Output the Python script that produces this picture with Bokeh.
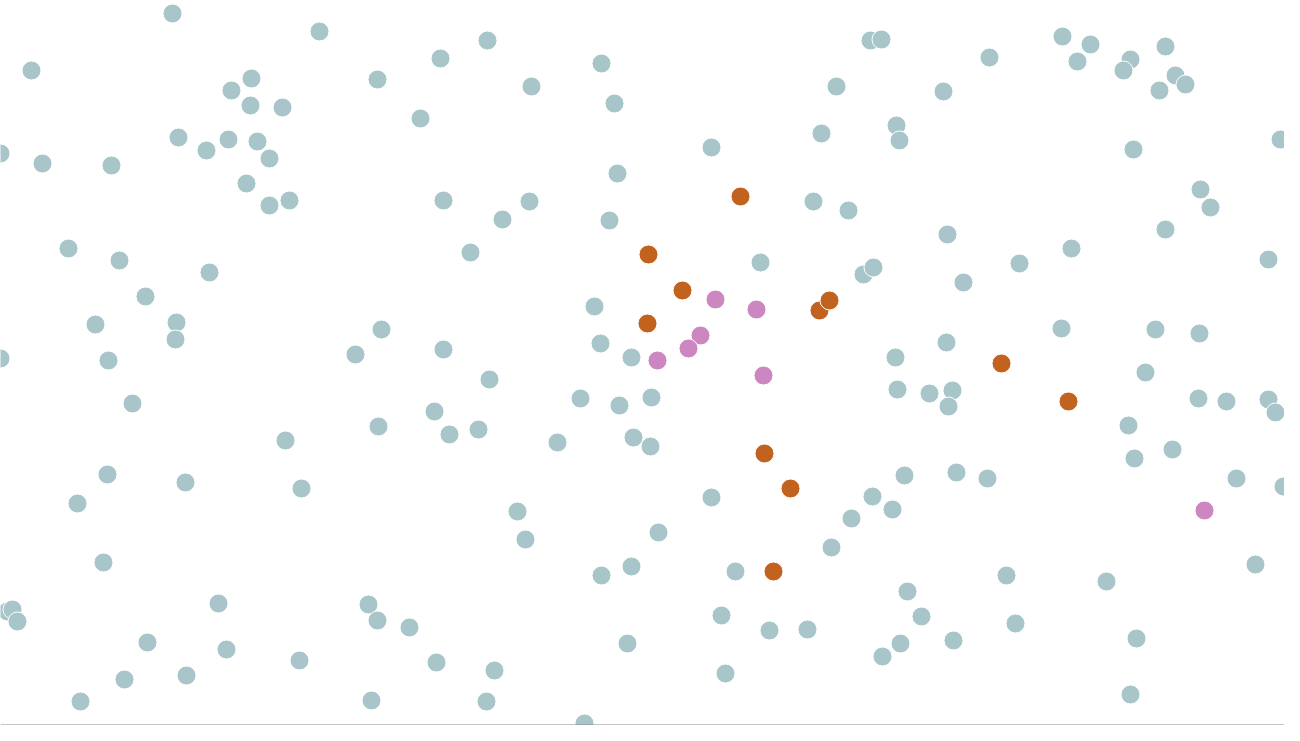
from bokeh.plotting import figure
from bokeh.models import Range1d, Span
from bokeh.embed import file_html
from bokeh.resources import INLINE

teal_x = [172, 319, 487, 601, 440, 870, 881, 989, 1062, 1090, 1077, 1130, 1123, 1165, 1175, 1185, 1159, 943, 836, 531, 377, 251, 231, 250, 282, 31, 614, 420,
          821, 896, 899, 711, 1133, 1280, 0, 42, 111, 178, 206, 228, 257, 269, 617, 246, 269, 289, 443, 529, 502, 609, 813, 848, 947, 1200, 1210, 1165,
          68, 119, 209, 470, 760, 863, 873, 963, 1019, 1071, 1268, 145, 95, 176, 175, 108, 0, 132, 285, 355, 381, 443, 489, 594, 600, 631, 895, 946, 1061, 1155, 1199, 1145, 897, 929, 952, 948, 580, 619, 651, 434, 449, 478, 378, 557, 633, 650, 904, 956, 987, 1198, 1226, 1268, 1275, 1128, 1134, 1172, 1236, 1283,
          107, 185, 301, 77, 103, 218, 147, 226, 299, 124, 186, 80, 7, 12, 17, 517, 525, 601, 631, 658, 711, 872, 892, 851, 831, 735, 907, 721, 921, 769, 807, 900, 882, 953, 725, 368, 377, 409, 627, 436, 494, 371, 486, 584, 1255, 1006, 1106, 1015, 1136, 1130]
teal_y = [13, 31, 40, 63, 58, 40, 39, 57, 36, 44, 61, 59, 70, 46, 75, 84, 90, 91, 86, 86, 79, 78, 90, 105, 107, 70, 103, 118,
          133, 125, 140, 147, 149, 139, 153, 163, 165, 137, 150, 139, 141, 158, 173, 183, 205, 200, 200, 201, 219, 220, 201, 210, 234, 189, 207, 229,
          248, 260, 272, 252, 262, 274, 267, 282, 263, 248, 259, 296, 324, 322, 339, 360, 358, 403, 440, 354, 329, 349, 379, 306, 343, 357, 357, 342, 328, 329, 333, 372, 389, 393, 390, 406, 398, 405, 397, 411, 434, 429, 426, 442, 437, 446, 475, 472, 478, 398, 401, 399, 412, 425, 458, 449, 478, 486,
          474, 482, 488, 503, 562, 603, 642, 649, 660, 679, 675, 701, 611, 609, 621, 511, 539, 575, 566, 532, 497, 496, 509, 518, 547, 571, 591, 615, 616, 630, 629, 643, 656, 640, 673, 604, 620, 627, 643, 662, 670, 700, 701, 723, 564, 575, 581, 623, 638, 694]

orange_x = [740, 648, 682, 647, 819, 829, 1001, 1068, 764, 790, 773]
orange_y = [196, 254, 290, 323, 310, 300, 363, 401, 453, 488, 571]

pink_x = [715, 756, 700, 688, 657, 763, 1204]
pink_y = [299, 309, 335, 348, 360, 375, 510]

TEAL = "#a8c6ca"
ORANGE = "#c1621f"
PINK = "#cc86c0"

p = figure(width=1284, height=725, output_backend="svg", toolbar_location=None,
           x_range=Range1d(0, 1284), y_range=Range1d(725, 0),
           min_border=0, min_border_left=0, min_border_right=0,
           min_border_top=0, min_border_bottom=0)
p.axis.visible = False
p.grid.visible = False
p.outline_line_color = None
p.background_fill_color = "white"
p.border_fill_color = "white"

p.scatter(teal_x, teal_y, size=19, fill_color=TEAL, line_color="white", line_width=1)
p.scatter(orange_x, orange_y, size=19, fill_color=ORANGE, line_color="white", line_width=1)
p.scatter(pink_x, pink_y, size=19, fill_color=PINK, line_color="white", line_width=1)

p.add_layout(Span(location=724.5, dimension="width", line_color="#8a8a8a", line_width=1))

open("out.html", "w").write(file_html(p, INLINE))
